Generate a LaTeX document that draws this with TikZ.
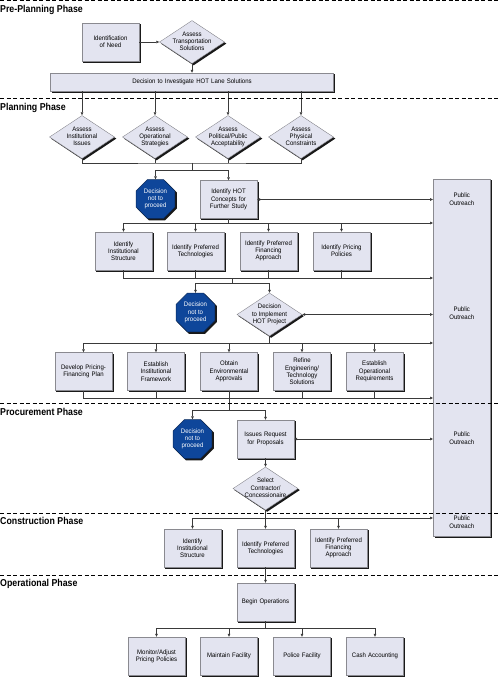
\documentclass[tikz,border=0pt]{standalone}
\usepackage{fontspec}
\setmainfont{Liberation Sans}[FakeStretch=0.93]
\newfontfamily\hdrfamily{Liberation Sans}[FakeStretch=0.88]
\usetikzlibrary{shapes.geometric,arrows.meta,calc,backgrounds}
\definecolor{boxfill}{HTML}{E3E4F0}
\definecolor{octfill}{HTML}{0E469A}
\definecolor{octline}{HTML}{0A2A5C}
\definecolor{linecol}{HTML}{3A3A3A}
\definecolor{boxline}{HTML}{8A8A90}
\newcommand{\tfont}{\fontsize{6.5}{7.3}\selectfont}
\newcommand{\hfont}{\hdrfamily\bfseries\fontsize{10}{12}\selectfont}
\newcommand{\ztx}[1]{\raisebox{-1.6pt}[0pt][0pt]{\makebox[0pt]{\begin{tabular}{@{}c@{}}#1\end{tabular}}}}
\tikzset{
  box/.style={rectangle, draw=boxline, line width=0.4pt, fill=boxfill, minimum width=57pt,
    minimum height=38pt, text width=54pt, align=center, inner sep=1pt, font=\tfont},
  dia/.style={diamond, draw=boxline, line width=0.4pt, fill=boxfill, minimum width=65pt,
    minimum height=43pt, inner sep=0pt, font=\tfont},
  oct/.style={regular polygon, regular polygon sides=8, minimum size=42pt, inner sep=0pt,
    fill=octfill, draw=octline, line width=0.5pt, text=white, font=\tfont},
  shadowfill/.style={fill=black!90},
  ln/.style={draw=linecol, line width=0.55pt},
  arr/.style={ln, -{Triangle[length=3pt,width=2.6pt]}},
  dbl/.style={ln, {Triangle[length=3pt,width=2.6pt]}-{Triangle[length=3pt,width=2.6pt]}},
  phase/.style={anchor=base west, inner sep=0pt, font=\hfont},
  sep/.style={draw=black, line width=0.8pt, dash pattern=on 4pt off 2.5pt},
  potext/.style={font=\tfont, inner sep=0pt}
}
\begin{document}
\begin{tikzpicture}[x=1pt,y=-1pt]
\useasboundingbox (0,0) rectangle (500,679);
% phase labels
\node[phase] (ph1) at (0,12.5) {Pre-Planning Phase};
\node[phase] (ph2) at (0,110.5) {Planning Phase};
\node[phase] (ph3) at (0,415) {Procurement Phase};
\node[phase] (ph4) at (0,524) {Construction Phase};
\node[phase] (ph5) at (0,586) {Operational Phase};
% public outreach
\node[box, minimum height=357pt] (po) at (461.75,357.5) {};
\node[potext] (po1) at (po.center |- 0,200) {\ztx{Public\\Outreach}};
\node[potext] (po2) at (po.center |- 0,314) {\ztx{Public\\Outreach}};
\node[potext] (po3) at (po.center |- 0,439) {\ztx{Public\\Outreach}};
\node[potext] (po4) at (po.center |- 0,523) {\ztx{Public\\Outreach}};
% pre-planning
\node[box] (need) at (110.5,42) {Identification\\of Need};
\node[dia] (ats) at (192,42) {\ztx{Assess\\Transportation\\Solutions}};
\node[box, minimum width=283pt, minimum height=18pt, text width=270pt] (dec) at (192,82) {Decision to Investigate HOT Lane Solutions};
% planning
\node[dia] (d1) at (82,137) {\ztx{Assess\\Institutional\\Issues}};
\node[dia] (d2) at (155,137) {\ztx{Assess\\Operational\\Strategies}};
\node[dia] (d3) at (228,137) {\ztx{Assess\\Political/Public\\Acceptability}};
\node[dia] (d4) at (301,137) {\ztx{Assess\\Physical\\Constraints}};
\node[oct] (oct1) at (155.5,199) {\ztx{Decision\\not to\\proceed}};
\node[box] (hot) at (228.5,199.5) {Identify HOT\\Concepts for\\Further Study};
\node[box] (b1) at (123.5,251) {Identify\\Institutional\\Structure};
\node[box] (b2) at (195.5,251) {Identify Preferred\\Technologies};
\node[box] (b3) at (268.5,251) {Identify Preferred\\Financing\\Approach};
\node[box] (b4) at (341.5,251) {Identify Pricing\\Policies};
\node[oct] (oct2) at (195.5,312.5) {\ztx{Decision\\not to\\proceed}};
\node[dia] (dec2) at (269.5,314.5) {\ztx{Decision\\to Implement\\HOT Project}};
\node[box] (r1) at (83.5,371.5) {Develop Pricing-\\Financing Plan};
\node[box] (r2) at (156,371.5) {Establish\\Institutional\\Framework};
\node[box] (r3) at (229,371.5) {Obtain\\Environmental\\Approvals};
\node[box] (r4) at (302,371.5) {Refine\\Engineering/\\Technology\\Solutions};
\node[box] (r5) at (374.5,371.5) {Establish\\Operational\\Requirements};
% procurement
\node[oct] (oct3) at (192.5,439) {\ztx{Decision\\not to\\proceed}};
\node[box] (irp) at (265.5,439) {Issues Request\\for Proposals};
\node[dia] (sel) at (265.5,488.5) {\ztx{Select\\Contractor/\\Concessionaire}};
% construction
\node[box] (c1) at (192.5,548) {Identify\\Institutional\\Structure};
\node[box] (c2) at (265.5,548) {Identify Preferred\\Technologies};
\node[box] (c3) at (338.5,548) {Identify Preferred\\Financing\\Approach};
% operational
\node[box] (begin) at (265.5,602) {Begin Operations};
\node[box] (o1) at (156.5,656) {Monitor/Adjust\\Pricing Policies};
\node[box] (o2) at (229,656) {Maintain Facility};
\node[box] (o3) at (302,656) {Police Facility};
\node[box] (o4) at (375,656) {Cash Accounting};
% shadows
\begin{scope}[on background layer]
\foreach \n in {po,need,dec,hot,b1,b2,b3,b4,r1,r2,r3,r4,r5,irp,c1,c2,c3,begin,o1,o2,o3,o4}
  \fill[shadowfill] ($(\n.south west)+(1.6,1.6)$) rectangle ($(\n.north east)+(1.6,1.6)$);
\foreach \n in {ats,d1,d2,d3,d4,dec2,sel}
  \fill[shadowfill] ($(\n.north)+(1.6,1.6)$) -- ($(\n.east)+(1.6,1.6)$) -- ($(\n.south)+(1.6,1.6)$) -- ($(\n.west)+(1.6,1.6)$) -- cycle;
\foreach \n in {oct1,oct2,oct3}
  \fill[shadowfill] ($(\n.corner 1)+(1.6,1.6)$) -- ($(\n.corner 2)+(1.6,1.6)$) -- ($(\n.corner 3)+(1.6,1.6)$) -- ($(\n.corner 4)+(1.6,1.6)$) -- ($(\n.corner 5)+(1.6,1.6)$) -- ($(\n.corner 6)+(1.6,1.6)$) -- ($(\n.corner 7)+(1.6,1.6)$) -- ($(\n.corner 8)+(1.6,1.6)$) -- cycle;
\end{scope}
% connectors
\draw[arr] (need) -- (ats);
\draw[arr] (ats) -- (dec);
\foreach \d in {d1,d2,d3,d4} \draw[arr] (\d.north |- dec.south) -- (\d.north);
\coordinate (j1) at (192,163);
\coordinate (j2) at (192,170);
\draw[ln] (d1.south) |- (j1) -| (d4.south);
\draw[ln] (d2.south) -- (d2.south |- j1);
\draw[ln] (d3.south) -- (d3.south |- j1);
\draw[ln] (j1) -- (j2);
\draw[arr] (j2) -| (oct1.north);
\draw[arr] (j2) -| (hot.north);
\draw[dbl] (hot.east) -- (hot.east -| po.west);
\coordinate (j3) at (228.5,223);
\draw[ln] (hot.south) -- (j3);
\draw[arr] (b1.north |- j3) -- (j3 -| po.west);
\foreach \b in {b1,b2,b3,b4} \draw[arr] (\b.north |- j3) -- (\b.north);
\coordinate (j4) at (232.5,278);
\coordinate (j5) at (232.5,283);
\draw[arr] (b1.south) |- (j4 -| po.west);
\foreach \b in {b2,b3,b4} \draw[ln] (\b.south) -- (\b.south |- j4);
\draw[ln] (j4) -- (j5);
\draw[arr] (j5) -| (oct2.north);
\draw[arr] (j5) -| (dec2.north);
\draw[dbl] (dec2.east) -- (dec2.east -| po.west);
\coordinate (j6) at (269.5,343);
\draw[ln] (dec2.south) -- (j6);
\draw[arr] (r1.north |- j6) -- (j6 -| po.west);
\foreach \r in {r1,r2,r3,r4,r5} \draw[arr] (\r.north |- j6) -- (\r.north);
\coordinate (j7) at (229,398);
\coordinate (j8) at (229,410);
\draw[arr] (r1.south) |- (j7 -| po.west);
\foreach \r in {r2,r4,r5} \draw[ln] (\r.south) -- (\r.south |- j7);
\draw[ln] (r3.south) -- (j8);
\draw[arr] (j8) -| (oct3.north);
\draw[arr] (j8) -| (irp.north);
\draw[dbl] (irp.east) -- (irp.east -| po.west);
\draw[arr] (irp) -- (sel);
\coordinate (j9) at (265.5,518);
\draw[ln] (sel.south) -- (j9);
\draw[arr] (c1.north |- j9) -- (j9 -| po.west);
\foreach \c in {c1,c2,c3} \draw[arr] (\c.north |- j9) -- (\c.north);
\draw[arr] (c2) -- (begin);
\coordinate (j10) at (265.5,628);
\draw[ln] (begin.south) -- (j10);
\draw[ln] (o1.north |- j10) -- (o4.north |- j10);
\foreach \o in {o1,o2,o3,o4} \draw[arr] (\o.north |- j10) -- (\o.north);
% phase separators
\draw[sep] (0,0.8) -- (500,0.8);
\draw[sep] (0,98.3) -- (500,98.3);
\draw[sep] (0,403) -- (500,403);
\draw[sep] (0,513) -- (500,513);
\draw[sep] (0,575) -- (500,575);
\end{tikzpicture}
\end{document}
